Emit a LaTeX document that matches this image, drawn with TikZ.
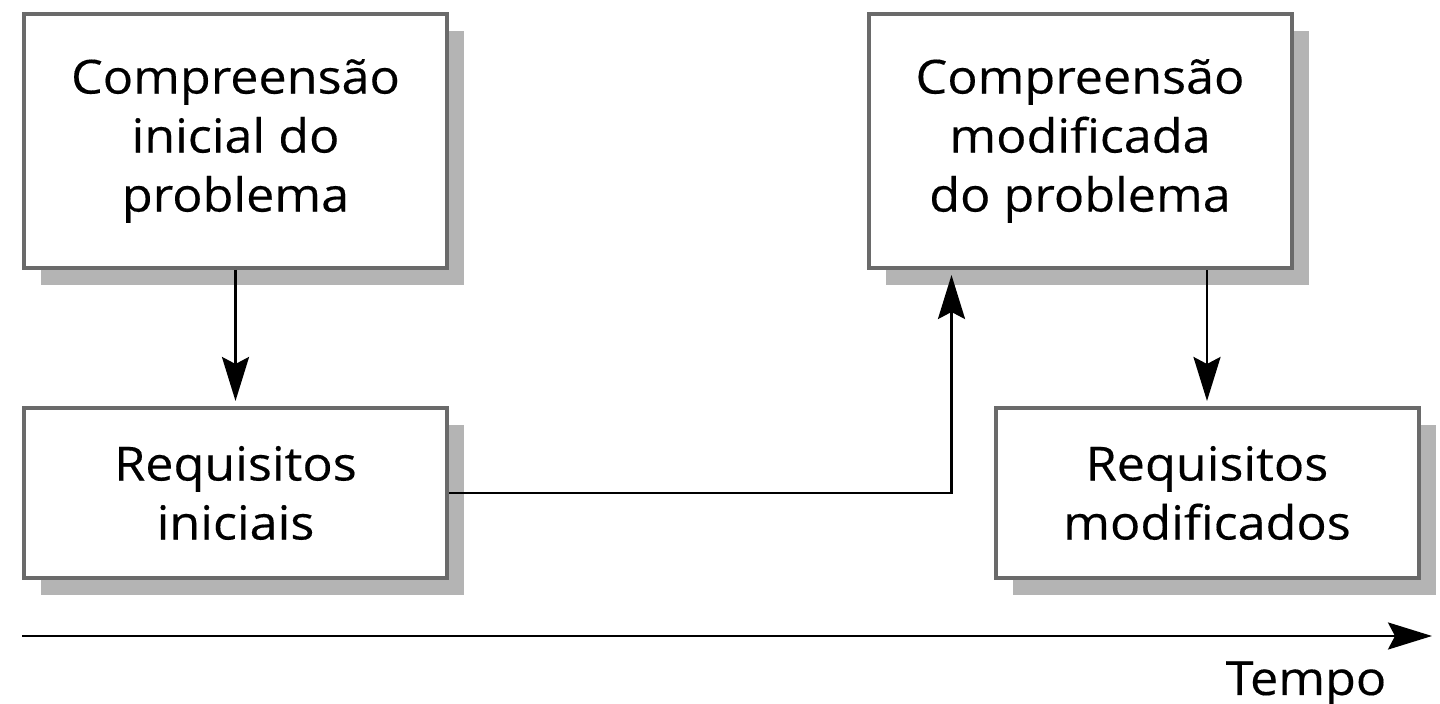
\documentclass[tikz,border=0pt]{standalone}
\usepackage{fontspec}
\setmainfont{Open Sans}[FakeStretch=1.07, FakeBold=0.3]
\usetikzlibrary{arrows.meta,shadows}
\definecolor{boxedge}{HTML}{6A6A6A}
\definecolor{shadowgray}{HTML}{B4B4B4}
\begin{document}
\begin{tikzpicture}[x=0.5pt,y=-0.5pt,
  label font/.style={font=\fontsize{23.5}{29.5}\selectfont},
  stagebox/.style={draw=boxedge, line width=2pt, fill=white, align=center,
    label font, inner sep=0pt,
    drop shadow={shadow xshift=8.5pt, shadow yshift=-8.5pt, fill=shadowgray, opacity=1}},
  tallbox/.style={stagebox, minimum width=211.5pt, minimum height=127pt},
  lowbox/.style={stagebox, minimum width=211.5pt, minimum height=85pt},
  tip/.style={-{Stealth[length=22pt,width=13.5pt,inset=3.5pt]}},
  flow/.style={line width=1.4pt, shorten >=2.5pt, tip}]
\useasboundingbox (0,0) rectangle (1440,704);

\node[tallbox] (a) at (235.5,141) {Compreensão\\inicial do\\problema};
\node[lowbox]  (b) at (235.5,493) {Requisitos\\iniciais};
\node[tallbox] (c) at (1080,141) {Compreensão\\modificada\\do problema};
\node[lowbox]  (d) at (1207,493) {Requisitos\\modificados};

\draw[flow] (a.south) -- (b.north);
\draw[flow] (b.east) -| ([xshift=42.5pt]c.south west);
\draw[flow] (d.north |- c.south) -- (d.north);

% time axis
\coordinate (t0) at (22,636);
\coordinate (t1) at (1432,636);
\draw[line width=1.4pt, tip] (t0) -- (t1);
\node[anchor=base, label font, inner sep=0pt] (tempo) at (1306,695) {Tempo};
\end{tikzpicture}
\end{document}
